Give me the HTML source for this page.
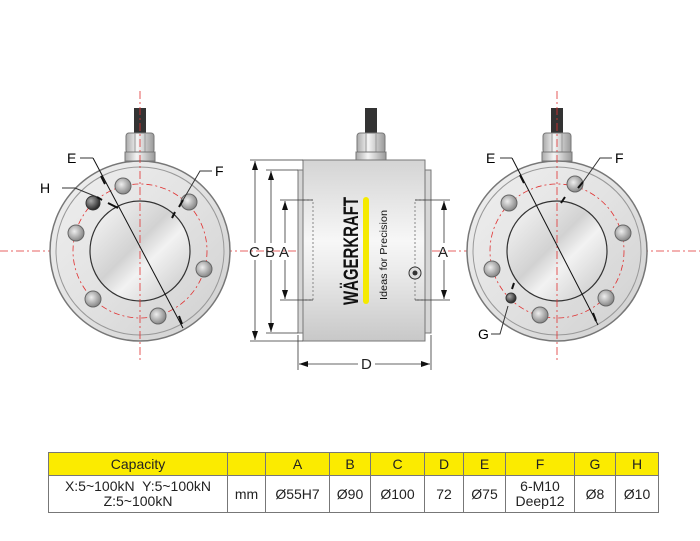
<!DOCTYPE html>
<html><head><meta charset="utf-8"><style>
html,body{margin:0;padding:0;background:#fff;}
body{width:700px;height:541px;position:relative;overflow:hidden;font-family:"Liberation Sans",sans-serif;}
table{position:absolute;left:48px;top:452px;border-collapse:collapse;font-size:14px;color:#222;}
td{border:1px solid #777;text-align:center;padding:0;line-height:15px;}
tr.h td{background:#fbeb00;height:22px;}
tr.d td{height:36px;}
</style></head><body>
<svg width="700" height="445" style="position:absolute;left:0;top:0" font-family="Liberation Sans, sans-serif">
<defs>
<linearGradient id="disk" x1="0" y1="0" x2="1" y2="1"><stop offset="0" stop-color="#fafafa"/><stop offset="0.45" stop-color="#d2d2d2"/><stop offset="0.6" stop-color="#f2f2f2"/><stop offset="1" stop-color="#c4c4c4"/></linearGradient>
<linearGradient id="ring" x1="0" y1="0" x2="1" y2="1"><stop offset="0" stop-color="#f0f0f0"/><stop offset="0.5" stop-color="#e2e2e2"/><stop offset="1" stop-color="#cfcfcf"/></linearGradient>
<linearGradient id="body" x1="0" y1="0" x2="0" y2="1"><stop offset="0" stop-color="#d4d4d4"/><stop offset="0.45" stop-color="#f7f7f7"/><stop offset="0.6" stop-color="#ececec"/><stop offset="1" stop-color="#c8c8c8"/></linearGradient>
<linearGradient id="nut" x1="0" y1="0" x2="1" y2="0"><stop offset="0" stop-color="#aaa"/><stop offset="0.4" stop-color="#f5f5f5"/><stop offset="1" stop-color="#999"/></linearGradient>
<radialGradient id="bolt" cx="0.4" cy="0.4" r="0.6"><stop offset="0" stop-color="#eee"/><stop offset="1" stop-color="#888"/></radialGradient>
<radialGradient id="dark" cx="0.35" cy="0.35" r="0.7"><stop offset="0" stop-color="#aaa"/><stop offset="1" stop-color="#222"/></radialGradient>
<g id="cable">
<rect x="-6" y="-143" width="12" height="27" fill="#333"/>
<rect x="-14" y="-118" width="28" height="20" rx="3" fill="url(#nut)" stroke="#777"/>
<line x1="-5" y1="-118" x2="-5" y2="-98" stroke="#999"/><line x1="5" y1="-118" x2="5" y2="-98" stroke="#999"/>
<rect x="-15" y="-99" width="30" height="9" fill="url(#nut)" stroke="#777"/>
</g>
</defs>
<line x1="0" y1="251" x2="700" y2="251" stroke="#e03030" stroke-width="0.8" stroke-dasharray="8,3,2,3"/>

<g transform="translate(140,251)">
<use href="#cable"/>
<circle r="90" fill="url(#ring)" stroke="#777" stroke-width="1.5"/>
<circle r="84" fill="none" stroke="#999"/>
<circle r="50" fill="url(#disk)" stroke="#333" stroke-width="1.2"/>
<circle r="67" fill="none" stroke="#e03030" stroke-width="0.8" stroke-dasharray="6,3,2,3"/>
<g fill="url(#bolt)" stroke="#666">
<circle cx="-17" cy="-65" r="8"/><circle cx="49" cy="-49" r="8"/><circle cx="-64" cy="-18" r="8"/>
<circle cx="64" cy="18" r="8"/><circle cx="-47" cy="48" r="8"/><circle cx="18" cy="65" r="8"/>
</g>
<circle cx="-47" cy="-48" r="7" fill="url(#dark)" stroke="#333"/>
<line x1="0" y1="-160" x2="0" y2="110" stroke="#e03030" stroke-width="0.8" stroke-dasharray="8,3,2,3"/>
</g>
<polyline points="80,158 93,158" fill="none" stroke="#333"/>
<line x1="93" y1="158" x2="183" y2="328" stroke="#111"/>
<path d="M101,176 l4,8 M179,316 l3,8" stroke="#111" stroke-width="2"/>
<text x="67" y="163" font-size="14">E</text>
<polyline points="62,188 75,188 97,197" fill="none" stroke="#333"/>
<line x1="97" y1="197" x2="102" y2="200" stroke="#111" stroke-width="2"/>
<line x1="108" y1="203" x2="118" y2="208" stroke="#111" stroke-width="2"/>
<text x="40" y="193" font-size="14">H</text>
<polyline points="212,171 200,171 183,200" fill="none" stroke="#333"/>
<line x1="183" y1="200" x2="179" y2="207" stroke="#111" stroke-width="2"/>
<line x1="175" y1="212" x2="172" y2="218" stroke="#111" stroke-width="2"/>
<text x="215" y="176" font-size="14">F</text>

<rect x="298" y="170" width="6" height="163" fill="#d6d6d6" stroke="#777"/>
<rect x="425" y="170" width="6" height="163" fill="#d6d6d6" stroke="#777"/>
<g transform="translate(371,251)"><use href="#cable"/></g>
<rect x="303" y="160" width="122" height="181" fill="url(#body)" stroke="#777"/>
<path d="M303,200 h10 v100 h-10 M425,200 h-10 v100 h10" fill="none" stroke="#888" stroke-dasharray="2,2"/>
<rect x="363" y="197" width="6" height="107" rx="3" fill="#f5ea00"/>
<text transform="translate(358,305) rotate(-90)" font-size="21" font-weight="bold" textLength="108" lengthAdjust="spacingAndGlyphs" fill="#111">WÄGERKRAFT</text>
<text transform="translate(387,300) rotate(-90)" font-size="10.5" textLength="90" lengthAdjust="spacingAndGlyphs" fill="#111">Ideas for Precision</text>
<circle cx="415" cy="273" r="6" fill="#ddd" stroke="#333"/><circle cx="415" cy="273" r="2.5" fill="#333"/>
<g stroke="#333" stroke-width="0.8" fill="none">
<line x1="250" y1="160" x2="303" y2="160"/><line x1="250" y1="341" x2="303" y2="341"/>
<line x1="266" y1="170" x2="298" y2="170"/><line x1="266" y1="333" x2="298" y2="333"/>
<line x1="280" y1="200" x2="313" y2="200"/><line x1="280" y1="300" x2="313" y2="300"/>
<line x1="415" y1="200" x2="450" y2="200"/><line x1="415" y1="300" x2="450" y2="300"/>
<line x1="255" y1="161" x2="255" y2="243"/><line x1="255" y1="260" x2="255" y2="340"/>
<line x1="271" y1="171" x2="271" y2="243"/><line x1="271" y1="260" x2="271" y2="332"/>
<line x1="285" y1="201" x2="285" y2="243"/><line x1="285" y1="260" x2="285" y2="299"/>
<line x1="444" y1="201" x2="444" y2="243"/><line x1="444" y1="260" x2="444" y2="299"/>
<line x1="298" y1="335" x2="298" y2="370"/><line x1="431" y1="335" x2="431" y2="370"/>
<line x1="299" y1="364" x2="358" y2="364"/><line x1="375" y1="364" x2="430" y2="364"/>
</g>
<g fill="#111">
<path d="M255,161 l-3,9 h6z M255,340 l-3,-9 h6z M271,171 l-3,9 h6z M271,332 l-3,-9 h6z M285,201 l-3,9 h6z M285,299 l-3,-9 h6z M444,201 l-3,9 h6z M444,299 l-3,-9 h6z M299,364 l9,-3 v6z M430,364 l-9,-3 v6z"/>
</g>
<g font-size="15" fill="#222">
<text x="249" y="257">C</text><text x="265" y="257">B</text><text x="279" y="257">A</text><text x="438" y="257">A</text><text x="361" y="369">D</text>
</g>

<g transform="translate(557,251)">
<use href="#cable"/>
<circle r="90" fill="url(#ring)" stroke="#777" stroke-width="1.5"/>
<circle r="84" fill="none" stroke="#999"/>
<circle r="50" fill="url(#disk)" stroke="#333" stroke-width="1.2"/>
<circle r="67" fill="none" stroke="#e03030" stroke-width="0.8" stroke-dasharray="6,3,2,3"/>
<g fill="url(#bolt)" stroke="#666">
<circle cx="-48" cy="-48" r="8"/><circle cx="18" cy="-67" r="8"/><circle cx="66" cy="-18" r="8"/>
<circle cx="-65" cy="18" r="8"/><circle cx="-17" cy="64" r="8"/><circle cx="49" cy="47" r="8"/>
</g>
<circle cx="-46" cy="47" r="5" fill="url(#dark)" stroke="#333"/>
<line x1="0" y1="-160" x2="0" y2="110" stroke="#e03030" stroke-width="0.8" stroke-dasharray="8,3,2,3"/>
</g>
<polyline points="500,158 512,158" fill="none" stroke="#333"/>
<line x1="512" y1="158" x2="598" y2="325" stroke="#111"/>
<path d="M520,175 l4,8 M593,313 l3,8" stroke="#111" stroke-width="2"/>
<text x="486" y="163" font-size="14">E</text>
<polyline points="612,158 600,158 583,182" fill="none" stroke="#333"/>
<line x1="583" y1="182" x2="578" y2="188" stroke="#111" stroke-width="2"/>
<line x1="565" y1="197" x2="561" y2="203" stroke="#111" stroke-width="2"/>
<text x="615" y="163" font-size="14">F</text>
<polyline points="491,334 500,334 508,306" fill="none" stroke="#333"/>
<line x1="514" y1="283" x2="512" y2="289" stroke="#111" stroke-width="2"/>
<text x="478" y="339" font-size="14">G</text>
</svg>

<table>
<tr class="h"><td style="width:178px">Capacity</td><td style="width:37px"></td><td style="width:63px">A</td><td style="width:40px">B</td><td style="width:53px">C</td><td style="width:38px">D</td><td style="width:41px">E</td><td style="width:68px">F</td><td style="width:40px">G</td><td style="width:42px">H</td></tr>
<tr class="d"><td>X:5~100kN&nbsp; Y:5~100kN<br>Z:5~100kN</td><td>mm</td><td>Ø55H7</td><td>Ø90</td><td>Ø100</td><td>72</td><td>Ø75</td><td>6-M10<br>Deep12</td><td>Ø8</td><td>Ø10</td></tr>
</table>
</body></html>
